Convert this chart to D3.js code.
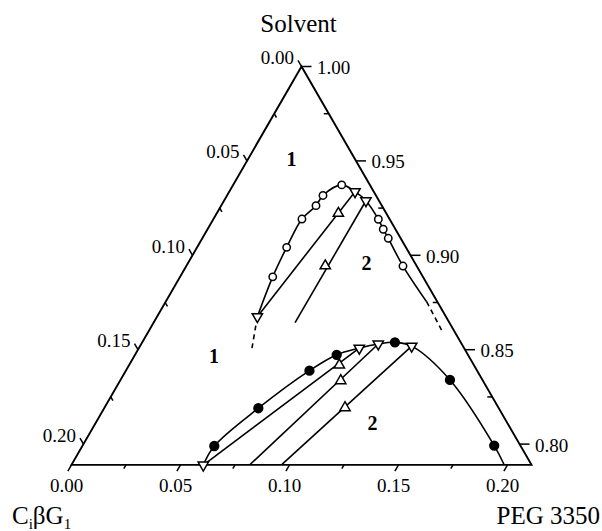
<!DOCTYPE html>
<html>
<head>
<meta charset="utf-8">
<script src="https://cdn.jsdelivr.net/npm/d3@7"></script>
<style>
  body { margin: 0; background: #fff; }
  text { font-family: "Liberation Serif", "Times New Roman", serif; fill: #000; }
</style>
</head>
<body>
<script>
// compositions are [PEG 3350, CiBG1] mass fractions, solvent = 1 - both
const upperCurve = [
  [0.0460, 0.0865], [0.0425, 0.0689], [0.0411, 0.0547], [0.0406, 0.0402],
  [0.0435, 0.0302], [0.0440, 0.0243], [0.0498, 0.0129], [0.0577, 0.0086],
  [0.0651, 0.0060], [0.0757, 0.0052], [0.0806, 0.0056], [0.0853, 0.0057],
  [0.0994, 0.0063], [0.1197, 0.0049]
]
const upperDashed = [
  [[0.0460, 0.0865], [0.0524, 0.0983]],
  [[0.1197, 0.0049], [0.1357, 0.0056]]
]
const upperCircles = [
  [0.0425, 0.0689], [0.0411, 0.0547], [0.0406, 0.0402], [0.0435, 0.0302],
  [0.0440, 0.0243], [0.0498, 0.0129], [0.0757, 0.0052], [0.0806, 0.0056],
  [0.0853, 0.0057], [0.0994, 0.0063]
]
const upperDown = [[0.0460, 0.0865], [0.0577, 0.0086], [0.0651, 0.0060]]
const upperUp = [[0.0558, 0.0220], [0.0637, 0.0419]]
const upperTies = [
  [[0.0460, 0.0865], [0.0577, 0.0086]],
  [[0.0649, 0.0708], [0.0651, 0.0060]]
]

const lowerCurve = [
  [0.0605, 0.1506], [0.0605, 0.1405], [0.0707, 0.1103], [0.0842, 0.0769],
  [0.0925, 0.0602], [0.1011, 0.0481], [0.1087, 0.0383], [0.1159, 0.0302],
  [0.1246, 0.0235], [0.1511, 0.0149], [0.1888, 0.0120], [0.1983, 0.0125]
]
const lowerFilled = [
  [0.0605, 0.1405], [0.0707, 0.1103], [0.0842, 0.0769], [0.0925, 0.0602],
  [0.1159, 0.0302], [0.1511, 0.0149], [0.1888, 0.0120]
]
const lowerDown = [[0.0605, 0.1506], [0.1011, 0.0481], [0.1087, 0.0383], [0.1246, 0.0235]]
const lowerUp = [[0.0964, 0.0617], [0.1012, 0.0652], [0.1103, 0.0704]]
const lowerTies = [
  [[0.0605, 0.1506], [0.1011, 0.0481]],
  [[0.0818, 0.1290], [0.1087, 0.0383]],
  [[0.0964, 0.1143], [0.1246, 0.0235]]
]

const pegTicks = [0.00, 0.05, 0.10, 0.15, 0.20]
const ciTicks = [0.00, 0.05, 0.10, 0.15, 0.20]
const solventTicks = [1.00, 0.95, 0.90, 0.85, 0.80]
const minorTicks = [0.025, 0.075, 0.125, 0.175]
const regionLabels = [
  { text: "1", x: 291.5, y: 166 },
  { text: "2", x: 366.5, y: 270 },
  { text: "1", x: 214, y: 363 },
  { text: "2", x: 372.5, y: 430 }
]

const width = 602, height = 531
const side = 0.211                    // composition range covered by one edge
const apex = [301.5, 66.5]
const s = d3.scaleLinear().domain([0, side]).range([0, 460])
const h3 = Math.sqrt(3) / 2

function proj(d) {
  let p = s(d[0]), c = s(d[1])
  return [apex[0] + (p - c) / 2, apex[1] + (p + c) * h3]
}

let svg = d3.select("body").append("svg")
  .attr("width", width)
  .attr("height", height)

let fmt = d3.format(".2f")
let line = d3.line().x(d => proj(d)[0]).y(d => proj(d)[1])
let curve = d3.line().x(d => proj(d)[0]).y(d => proj(d)[1]).curve(d3.curveCatmullRom.alpha(0.5))

// triangle frame
svg.append("path")
  .attr("d", line([[0, 0], [0, side], [side, 0]]) + "Z")
  .attr("fill", "none")
  .attr("stroke", "#000")
  .attr("stroke-width", 1.9)
  .attr("stroke-linejoin", "miter")

let ticks = svg.append("g").attr("stroke", "#000").attr("stroke-width", 1.5)

// bottom axis: PEG, ticks run parallel to the left edge
pegTicks.forEach(v => {
  let [x, y] = proj([v, side - v])
  ticks.append("line").attr("x1", x).attr("y1", y).attr("x2", x - 3.6).attr("y2", y + 6.3)
  svg.append("text").attr("x", x - 5).attr("y", y + 27)
    .attr("text-anchor", "middle").attr("font-size", 19).text(fmt(v))
})
minorTicks.forEach(v => {
  let [x, y] = proj([v, side - v])
  ticks.append("line").attr("x1", x).attr("y1", y).attr("x2", x - 2.2).attr("y2", y + 3.8)
})

// left axis: CiBG1
ciTicks.forEach(v => {
  let [x, y] = proj([0, v])
  ticks.append("line").attr("x1", x).attr("y1", y).attr("x2", x - 3.5).attr("y2", y - 6.1)
  svg.append("text").attr("x", x - 7.5).attr("y", y - 2.5)
    .attr("text-anchor", "end").attr("font-size", 19).text(fmt(v))
})
minorTicks.forEach(v => {
  let [x, y] = proj([0, v])
  ticks.append("line").attr("x1", x).attr("y1", y).attr("x2", x + 2.2).attr("y2", y + 3.8)
})

// right axis: solvent, ticks horizontal
solventTicks.forEach(v => {
  let [x, y] = proj([1 - v, 0])
  ticks.append("line").attr("x1", x).attr("y1", y).attr("x2", x + 10).attr("y2", y)
  svg.append("text").attr("x", x + 15.5).attr("y", y + 7.5)
    .attr("font-size", 19).text(fmt(v))
})
minorTicks.forEach(v => {
  let [x, y] = proj([v, 0])
  ticks.append("line").attr("x1", x).attr("y1", y).attr("x2", x - 5).attr("y2", y)
})

// tie lines
let lines = svg.append("g").attr("fill", "none").attr("stroke", "#000").attr("stroke-width", 1.6)
upperTies.concat(lowerTies).forEach(t => lines.append("path").attr("d", line(t)))

// binodal curves
lines.append("path").attr("d", curve(upperCurve))
lines.append("path").attr("d", curve(lowerCurve))
upperDashed.forEach(t => lines.append("path").attr("d", line(t)).attr("stroke-dasharray", "5,4"))

// markers
let marks = svg.append("g").attr("stroke", "#000").attr("stroke-width", 1.5)
let tri = d3.symbol().type(d3.symbolTriangle).size(46)

marks.selectAll(".oc").data(upperCircles).enter().append("circle")
  .attr("cx", d => proj(d)[0]).attr("cy", d => proj(d)[1])
  .attr("r", 3.7).attr("fill", "#fff")

marks.selectAll(".fc").data(lowerFilled).enter().append("circle")
  .attr("cx", d => proj(d)[0]).attr("cy", d => proj(d)[1])
  .attr("r", 4.4).attr("fill", "#000")

marks.selectAll(".dn").data(upperDown.concat(lowerDown)).enter().append("path")
  .attr("d", tri)
  .attr("transform", d => `translate(${proj(d)[0]},${proj(d)[1]}) rotate(180)`)
  .attr("fill", "#fff")

marks.selectAll(".up").data(upperUp.concat(lowerUp)).enter().append("path")
  .attr("d", tri)
  .attr("transform", d => `translate(${proj(d)[0]},${proj(d)[1]})`)
  .attr("fill", "#fff")

// phase region labels
svg.selectAll(".region").data(regionLabels).enter().append("text")
  .attr("x", d => d.x).attr("y", d => d.y)
  .attr("text-anchor", "middle")
  .attr("font-size", 20).attr("font-weight", "bold")
  .text(d => d.text)

// component names
svg.append("text").attr("x", 298.5).attr("y", 32)
  .attr("text-anchor", "middle").attr("font-size", 25).text("Solvent")

svg.append("text").attr("x", 600).attr("y", 524)
  .attr("text-anchor", "end").attr("font-size", 25).text("PEG 3350")

let ci = svg.append("text").attr("x", 12).attr("y", 524).attr("font-size", 25)
ci.append("tspan").text("C")
ci.append("tspan").attr("font-size", 15).attr("dy", 5).text("i")
ci.append("tspan").attr("dy", -5).text("βG")
ci.append("tspan").attr("font-size", 15).attr("dy", 5).text("1")
</script>
</body>
</html>
